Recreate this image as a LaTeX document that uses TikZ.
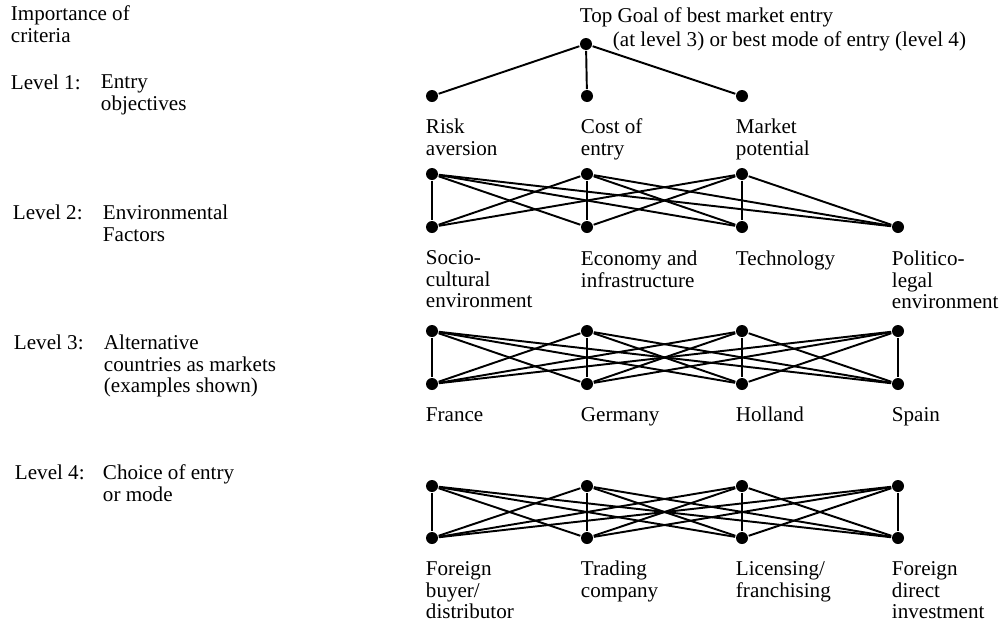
\documentclass[tikz,border=0pt]{standalone}
\usepackage{fontspec}
\setmainfont{Liberation Serif}
\usetikzlibrary{calc}

\begin{document}
\begin{tikzpicture}[x=0.02cm,y=-0.02cm,line width=1.1pt,
  dot/.style={circle,fill,inner sep=0pt,minimum size=0.24cm},
  lbl/.style={anchor=north west,inner sep=0pt,align=left,
    font=\fontsize{12}{12.2}\selectfont}]
\useasboundingbox (0,0) rectangle (1002,626);

% dots of the hierarchy
\node[dot] (goal) at (586,44) {};
\foreach \i/\x in {1/432,2/587,3/742}{
  \node[dot] (obj\i) at (\x,96) {};
  \node[dot] (objb\i) at (\x,174) {};
}
\foreach \i/\x in {1/432,2/587,3/742,4/898}{
  \node[dot] (env\i) at (\x,227) {};
  \node[dot] (envb\i) at (\x,331) {};
  \node[dot] (cty\i) at (\x,384) {};
  \node[dot] (ctyb\i) at (\x,486) {};
  \node[dot] (mode\i) at (\x,538) {};
}

% links between levels
\foreach \j in {1,2,3}
  \draw (goal)--(obj\j);
\foreach \i in {1,2,3}
  \foreach \j in {1,2,3,4}
    \draw (objb\i)--(env\j);
\foreach \i in {1,2,3,4}
  \foreach \j in {1,2,3,4}{
    \draw (envb\i)--(cty\j);
    \draw (ctyb\i)--(mode\j);
  }

% goal text
\node[lbl] (goal_t) at (579,7) {Top Goal of best market entry};
\node[lbl] (goal_n) at (612,31) {(at level 3) or best mode of entry (level 4)};

% labels under the dots
\node[lbl] (obj1_t) at ($(obj1)+(-7,22)$) {Risk\\aversion};
\node[lbl] (obj2_t) at ($(obj2)+(-7,22)$) {Cost of\\entry};
\node[lbl] (obj3_t) at ($(obj3)+(-7,22)$) {Market\\potential};

\node[lbl] (env1_t) at ($(env1)+(-7,23)$) {Socio-\\cultural\\environment};
\node[lbl] (env2_t) at ($(env2)+(-7,23)$) {Economy and\\infrastructure};
\node[lbl] (env3_t) at ($(env3)+(-7,23)$) {Technology};
\node[lbl] (env4_t) at ($(env4)+(-7,23)$) {Politico-\\legal\\environment};

\node[lbl] (cty1_t) at ($(cty1)+(-7,23)$) {France};
\node[lbl] (cty2_t) at ($(cty2)+(-7,23)$) {Germany};
\node[lbl] (cty3_t) at ($(cty3)+(-7,22)$) {Holland};
\node[lbl] (cty4_t) at ($(cty4)+(-7,23)$) {Spain};

\node[lbl] (mode1_t) at ($(mode1)+(-7,23)$) {Foreign\\buyer/\\distributor};
\node[lbl] (mode2_t) at ($(mode2)+(-7,22)$) {Trading\\company};
\node[lbl] (mode3_t) at ($(mode3)+(-7,23)$) {Licensing/\\franchising};
\node[lbl] (mode4_t) at ($(mode4)+(-7,23)$) {Foreign\\direct\\investment};

% level column on the left
\node[lbl] (crit) at (10,5) {Importance of\\criteria};
\node[lbl] (lev1) at (10,74) {Level 1:};
\node[lbl] (lev1_t) at (100,74) {Entry\\objectives};
\node[lbl] (lev2) at (12,204) {Level 2:};
\node[lbl] (lev2_t) at (102,204) {Environmental\\Factors};
\node[lbl] (lev3) at (13,334) {Level 3:};
\node[lbl] (lev3_t) at (103,334) {Alternative\\countries as markets\\(examples shown)};
\node[lbl] (lev4) at (14,464) {Level 4:};
\node[lbl] (lev4_t) at (102,464) {Choice of entry\\or mode};
\end{tikzpicture}
\end{document}
